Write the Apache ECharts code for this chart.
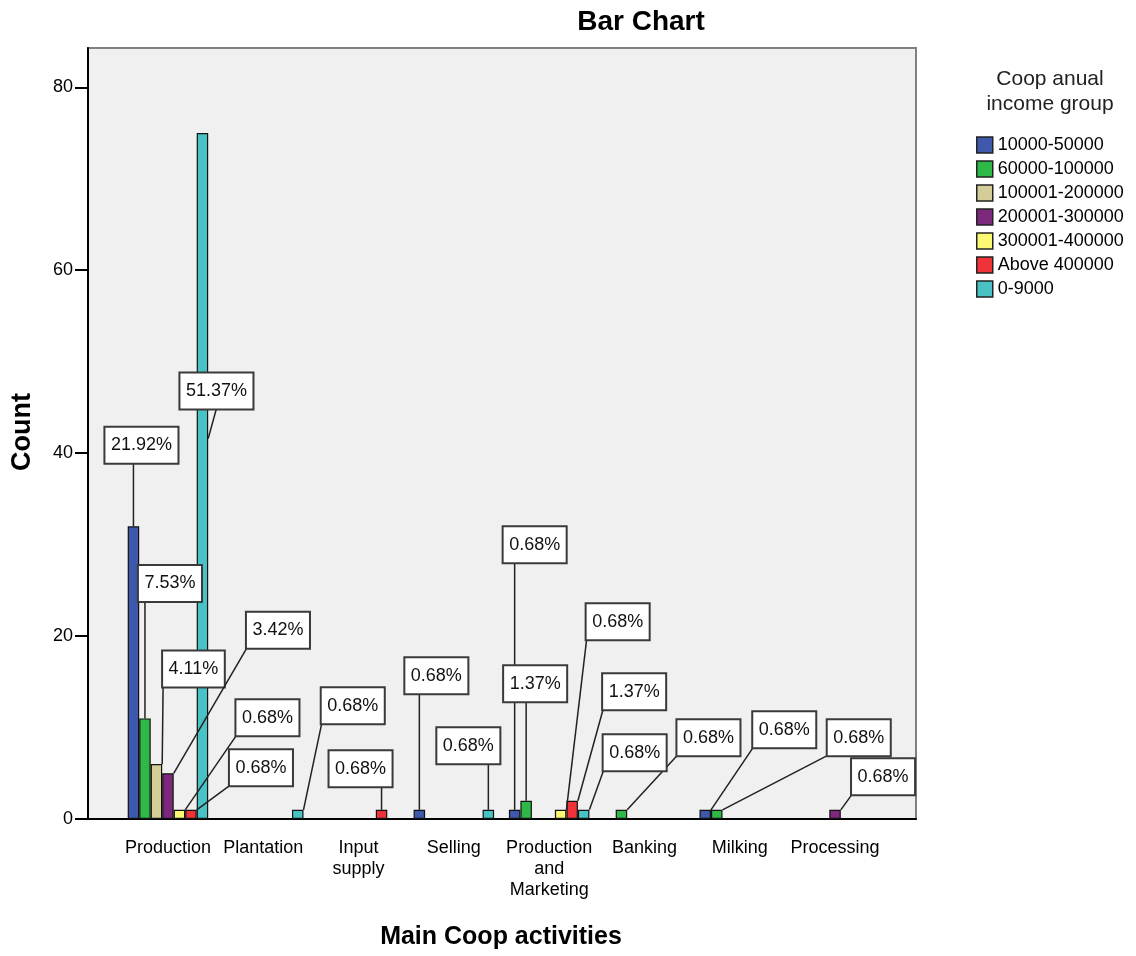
<!DOCTYPE html>
<html>
<head>
<meta charset="utf-8">
<title>Bar Chart</title>
<script src="https://cdn.jsdelivr.net/npm/echarts@6/dist/echarts.min.js"></script>
<style>
  body { margin: 0; background: #fff; }
  #chart { width: 1136px; height: 956px; }
</style>
</head>
<body>
<div id="chart"></div>
<script>
// categories on the x axis
const categories = ['Production', 'Plantation', 'Input\nsupply', 'Selling', 'Production\nand\nMarketing', 'Banking', 'Milking', 'Processing']
// income groups (legend order)
const groups = ['10000-50000', '60000-100000', '100001-200000', '200001-300000', '300001-400000', 'Above 400000', '0-9000']
// counts per group, one value per category
const count10000to50000 = [32, 0, 0, 1, 1, 0, 1, 0]
const count60000to100000 = [11, 0, 0, 0, 2, 1, 1, 0]
const count100001to200000 = [6, 0, 0, 0, 0, 0, 0, 0]
const count200001to300000 = [5, 0, 0, 0, 0, 0, 0, 1]
const count300001to400000 = [1, 0, 0, 0, 1, 0, 0, 0]
const countAbove400000 = [1, 0, 1, 0, 2, 0, 0, 0]
const count0to9000 = [75, 1, 0, 1, 1, 0, 0, 0]
const yTicks = [0, 20, 40, 60, 80]
const yMax = 84.3

const counts = [count10000to50000, count60000to100000, count100001to200000, count200001to300000,
  count300001to400000, countAbove400000, count0to9000]
const colors = ['#3E58AC', '#2EB848', '#D3CE97', '#7C287D', '#FBF873', '#EF3338', '#48C2C5']

// where each percentage box sits, relative to the top centre of its bar (px)
const labelOffsets = {
  '0,0': [8, -81], '1,0': [25, -135], '2,0': [37, -95], '3,0': [110, -143],
  '4,0': [88, -92], '5,0': [70, -42], '6,0': [14, 258],
  '6,1': [55, -104],
  '5,2': [-21, -41],
  '0,3': [17, -134], '6,3': [-20, -64],
  '0,4': [20, -265], '1,4': [9, -117], '4,4': [57, -188], '5,4': [62, -109], '6,4': [51, -57],
  '1,5': [87, -72],
  '0,6': [79, -80], '1,6': [142, -72],
  '3,7': [48, -33]
}

const font = '"Liberation Sans", Arial, sans-serif'
const barW = 11.5
const padX = 5.5, padY = 7, lineH = 21

var total = 0
counts.forEach(a => a.forEach(v => { total += v }))

var ctx = document.createElement('canvas').getContext('2d')
ctx.font = '18px ' + font
function textWidth(t) { return ctx.measureText(t).width }
function clamp(v, a, b) { return Math.max(a, Math.min(b, v)) }

var labelData = []
counts.forEach((arr, s) => {
  arr.forEach((v, c) => {
    var off = labelOffsets[s + ',' + c]
    if (v > 0 && off) labelData.push([c, v, s, off[0], off[1]])
  })
})

function renderLabel(params, api) {
  var c = api.value(0), v = api.value(1), s = api.value(2)
  var dx = api.value(3), dy = api.value(4)
  var p = api.coord([c, v])
  var bx = p[0] + (s - (groups.length - 1) / 2) * barW
  var by = p[1]
  var text = (v / total * 100).toFixed(2) + '%'
  var w = textWidth(text) + 2 * padX
  var h = lineH + 2 * padY
  var cx = bx + dx, cy = by + dy
  var sy = cy + h / 2, sx, ex, ey
  if (by < sy) {
    // box sits over the bar itself
    sx = cx; ex = bx + barW / 2; ey = sy + 30
  } else {
    sx = clamp(bx, cx - w / 2, cx + w / 2)
    ex = clamp(sx, bx - barW / 2, bx + barW / 2)
    ey = by
  }
  return {
    type: 'group',
    children: [
      {
        type: 'line',
        shape: { x1: sx, y1: sy, x2: ex, y2: ey },
        style: { stroke: '#222', lineWidth: 1.5 }
      },
      {
        type: 'text',
        style: {
          text: text, x: cx, y: cy, align: 'center', verticalAlign: 'middle',
          font: '18px ' + font, fill: '#111', lineHeight: lineH,
          backgroundColor: '#fff', borderColor: '#3a3a3a', borderWidth: 2,
          padding: [padY, padX]
        }
      }
    ]
  }
}

var series = groups.map((name, s) => ({
  name: name,
  type: 'bar',
  xAxisIndex: 0,
  yAxisIndex: 0,
  barWidth: barW,
  barGap: '0%',
  itemStyle: { color: colors[s], borderColor: '#111', borderWidth: 1.2 },
  data: counts[s].map(v => (v === 0 ? null : v))
}))
series.push({
  type: 'custom',
  xAxisIndex: 0,
  yAxisIndex: 0,
  z: 5,
  clip: false,
  silent: true,
  renderItem: renderLabel,
  data: labelData
})

var chart = echarts.init(document.getElementById('chart'))
chart.setOption({
  animation: false,
  textStyle: { fontFamily: font },
  grid: [
    { left: 120.3, width: 762.4, top: 48, bottom: 137 },
    {
      left: 88, right: 220, top: 48, bottom: 137, show: true,
      backgroundColor: '#F0F0F0', borderColor: '#808080', borderWidth: 2, z: 0
    }
  ],
  xAxis: [
    {
      type: 'category',
      gridIndex: 0,
      data: categories,
      axisLine: { lineStyle: { color: '#000', width: 2 } },
      axisTick: { alignWithLabel: true, length: 12, lineStyle: { color: '#000', width: 2 } },
      axisLabel: {
        interval: 0, margin: 19, color: '#000', fontSize: 18, lineHeight: 21, fontFamily: font
      }
    },
    {
      type: 'value',
      gridIndex: 1,
      min: 0,
      max: 1,
      axisLine: { show: true, onZero: false, lineStyle: { color: '#000', width: 2 } },
      axisTick: { show: false },
      axisLabel: { show: false },
      splitLine: { show: false }
    }
  ],
  yAxis: [
    { type: 'value', gridIndex: 0, min: 0, max: yMax, show: false, splitLine: { show: false } },
    {
      type: 'value',
      gridIndex: 1,
      min: 0,
      max: yMax,
      axisLine: { show: true, lineStyle: { color: '#000', width: 2 } },
      axisTick: { show: true, length: 13, customValues: yTicks, lineStyle: { color: '#000', width: 2 } },
      axisLabel: { customValues: yTicks, margin: 15, color: '#000', fontSize: 18, fontFamily: font },
      splitLine: { show: false }
    }
  ],
  legend: {
    data: groups,
    orient: 'vertical',
    left: 971,
    top: 131,
    itemWidth: 16,
    itemHeight: 16,
    itemGap: 6,
    icon: 'rect',
    itemStyle: { borderColor: '#222', borderWidth: 1.5 },
    textStyle: { fontSize: 18, lineHeight: 18, color: '#000', fontFamily: font }
  },
  graphic: [
    {
      type: 'text', x: 641, y: 22,
      style: { text: 'Bar Chart', font: 'bold 28px ' + font, fill: '#000', align: 'center', verticalAlign: 'middle' }
    },
    {
      type: 'text', x: 23, y: 432, rotation: Math.PI / 2,
      style: { text: 'Count', font: 'bold 27px ' + font, fill: '#000', align: 'center', verticalAlign: 'middle' }
    },
    {
      type: 'text', x: 501, y: 937,
      style: { text: 'Main Coop activities', font: 'bold 25px ' + font, fill: '#000', align: 'center', verticalAlign: 'middle' }
    },
    {
      type: 'text', x: 1050, y: 92,
      style: {
        text: 'Coop anual\nincome group', font: '21px ' + font, lineHeight: 25,
        fill: '#222', align: 'center', verticalAlign: 'middle'
      }
    }
  ],
  series: series
})
</script>
</body>
</html>
